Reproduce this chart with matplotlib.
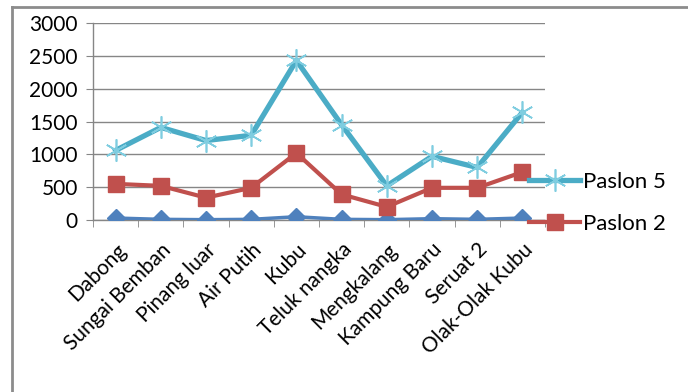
import matplotlib
matplotlib.use("Agg")
import matplotlib.pyplot as plt
from matplotlib.lines import Line2D
import numpy as np

plt.rcParams["font.family"] = ["Lato", "DejaVu Sans"]

villages = ["Dabong", "Sungai Bemban", "Pinang luar", "Air Putih", "Kubu",
            "Teluk nangka", "Mengkalang", "Kampung Baru", "Seruat 2", "Olak-Olak Kubu"]
paslon5 = [1060, 1410, 1210, 1290, 2430, 1450, 520, 970, 800, 1640]
paslon2 = [550, 520, 340, 490, 1020, 390, 200, 490, 490, 730]
paslon1 = [30, 10, 5, 10, 50, 10, 5, 20, 10, 30]

CYAN, RED, BLUE, GRID = "#4BACC6", "#C0504D", "#4F81BD", "#868686"

fig = plt.figure(figsize=(6.88, 3.92), dpi=100)
ax = fig.add_axes([93 / 688, 1 - 220 / 392, 452 / 688, 197 / 392])

x = np.arange(len(villages))
ax.plot(x, paslon1, color=BLUE, lw=2.5, marker="D", ms=9.5, mec=BLUE, zorder=3)
ax.plot(x, paslon2, color=RED, lw=3, marker="s", ms=11.5, mec=RED, zorder=4)
ax.plot(x, paslon5, color=CYAN, lw=3.8, zorder=5)
ax.plot(x, paslon5, lw=0, marker=(6, 2, 0), ms=16, mec="#7FCDE0", mew=1.2, zorder=6)

ax.set_xlim(-0.5, len(villages) - 0.5)
ax.set_ylim(0, 3000)
ax.set_yticks(range(0, 3001, 500))
ax.set_xticks(x)
ax.set_xticklabels(villages, rotation=45, ha="right", rotation_mode="anchor", fontsize=15)
ax.set_xticks(np.arange(-0.5, len(villages), 1), minor=True)
ax.tick_params(axis="x", which="major", length=0, pad=14)
ax.tick_params(axis="x", which="minor", length=5, color=GRID, direction="out")
ax.tick_params(axis="y", length=5, color=GRID, labelsize=15, pad=6)
ax.grid(axis="y", color=GRID, lw=1)
ax.set_axisbelow(True)
for s in ("top", "right"):
    ax.spines[s].set_visible(False)
for s in ("left", "bottom"):
    ax.spines[s].set_color(GRID)
    ax.spines[s].set_linewidth(1)

handles = [
    Line2D([0], [0], color=CYAN, lw=3.8, marker=(6, 2, 0), ms=16, mec="#7FCDE0", mew=1.2, label="Paslon 5"),
    Line2D([0], [0], color=RED, lw=3, marker="s", ms=11.5, mec=RED, label="Paslon 2"),
]
fig.legend(handles=handles, loc="upper left", bbox_to_anchor=(529 / 688, 1 - 172 / 392),
           frameon=False, fontsize=16, handlelength=2.3, handletextpad=0.15, labelspacing=1.0,
           borderaxespad=0, borderpad=0)

# outer chart frame (clipped on right and bottom like the screenshot)
fig.add_artist(Line2D([12 / 688, 12 / 688], [0, 1 - 7 / 392], color="#8C8C8C", lw=2, transform=fig.transFigure))
fig.add_artist(Line2D([12 / 688, 1], [1 - 7 / 392, 1 - 7 / 392], color="#8C8C8C", lw=2, transform=fig.transFigure))

fig.savefig("out.png", dpi=100)
